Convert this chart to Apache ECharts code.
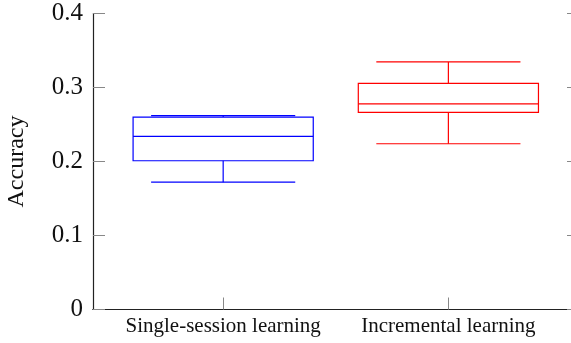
<!DOCTYPE html>
<html>
<head>
<meta charset="utf-8">
<script src="https://cdn.jsdelivr.net/npm/echarts@6/dist/echarts.min.js"></script>
<style>html,body{margin:0;padding:0;background:#fff;}#c{width:571px;height:343px;}</style>
</head>
<body>
<div id="c"></div>
<script>
const categories = ['Single-session learning', 'Incremental learning'];
const positions = [1, 2];
const lowerWhisker = [0.172, 0.224];
const q1 = [0.201, 0.2665];
const median = [0.234, 0.278];
const q3 = [0.260, 0.3055];
const upperWhisker = [0.262, 0.3345];
const boxColors = ['#0000ff', '#ff0000'];
const yTicks = [0, 0.1, 0.2, 0.3, 0.4];

const font = 'Liberation Serif, Times New Roman, serif';
const chart = echarts.init(document.getElementById('c'), null, {renderer: 'canvas'});

const data = positions.map((p, i) => [p, lowerWhisker[i], q1[i], median[i], q3[i], upperWhisker[i], i]);

function renderItem(params, api) {
  const x = api.value(0);
  const idx = api.value(6);
  const color = boxColors[idx];
  const boxHalf = 0.4, capHalf = 0.32;
  const pt = (xx, yy) => api.coord([xx, yy]);
  const style = {stroke: color, lineWidth: 1.2, fill: null};
  const line = (a, b) => ({type: 'line', shape: {x1: a[0], y1: a[1], x2: b[0], y2: b[1]}, style: style});
  const lo = api.value(1), a = api.value(2), m = api.value(3), b = api.value(4), hi = api.value(5);
  const tl = pt(x - boxHalf, b), br = pt(x + boxHalf, a);
  return {
    type: 'group',
    children: [
      {type: 'rect', shape: {x: tl[0], y: tl[1], width: br[0] - tl[0], height: br[1] - tl[1]}, style: {stroke: color, lineWidth: 1.2, fill: 'rgba(0,0,0,0)'}},
      line(pt(x - boxHalf, m), pt(x + boxHalf, m)),
      line(pt(x, b), pt(x, hi)),
      line(pt(x, a), pt(x, lo)),
      line(pt(x - capHalf, hi), pt(x + capHalf, hi)),
      line(pt(x - capHalf, lo), pt(x + capHalf, lo))
    ]
  };
}

chart.setOption({
  animation: false,
  backgroundColor: '#fff',
  grid: {left: 93, right: -8, top: 13.5, bottom: 33.5, containLabel: false, outerBoundsMode: 'none'},
  xAxis: [{
    type: 'value', min: 0.422, max: 2.58, position: 'bottom',
    splitLine: {show: false},
    axisLine: {show: true, lineStyle: {color: '#222', width: 1.2}},
    axisTick: {show: true, inside: true, length: 12, customValues: positions, lineStyle: {color: '#888', width: 1}},
    axisLabel: {customValues: positions, margin: 6, color: '#111', fontFamily: font, fontSize: 21,
      formatter: v => { const i = positions.indexOf(Math.round(v)); return i >= 0 ? categories[i] : ''; }}
  }, {
    type: 'value', min: 0.422, max: 2.58, position: 'top',
    splitLine: {show: false},
    axisLine: {show: true, lineStyle: {color: '#222', width: 1.2}},
    axisTick: {show: false}, axisLabel: {show: false}
  }],
  yAxis: [{
    type: 'value', min: 0, max: 0.4, interval: 0.1, position: 'left',
    name: 'Accuracy', nameLocation: 'middle', nameRotate: 90, nameGap: 64,
    nameTextStyle: {color: '#111', fontFamily: font, fontSize: 24},
    splitLine: {show: false},
    axisLine: {show: true, lineStyle: {color: '#222', width: 1.2}},
    axisTick: {show: true, inside: true, length: 12, lineStyle: {color: '#888', width: 1}},
    axisLabel: {margin: 10, color: '#111', fontFamily: font, fontSize: 25,
      formatter: v => { const t = yTicks.find(s => Math.abs(s - v) < 1e-9); return t === undefined ? '' : String(t); }}
  }, {
    type: 'value', min: 0, max: 0.4, interval: 0.1, position: 'right',
    splitLine: {show: false},
    axisLine: {show: true, lineStyle: {color: '#222', width: 1.2}},
    axisTick: {show: true, inside: true, length: 12, lineStyle: {color: '#888', width: 1}},
    axisLabel: {show: false}
  }],
  series: [{
    type: 'custom',
    xAxisIndex: 0, yAxisIndex: 0,
    renderItem: renderItem,
    encode: {x: 0, y: [1, 2, 3, 4, 5]},
    data: data,
    clip: false
  }]
});
</script>
</body>
</html>
